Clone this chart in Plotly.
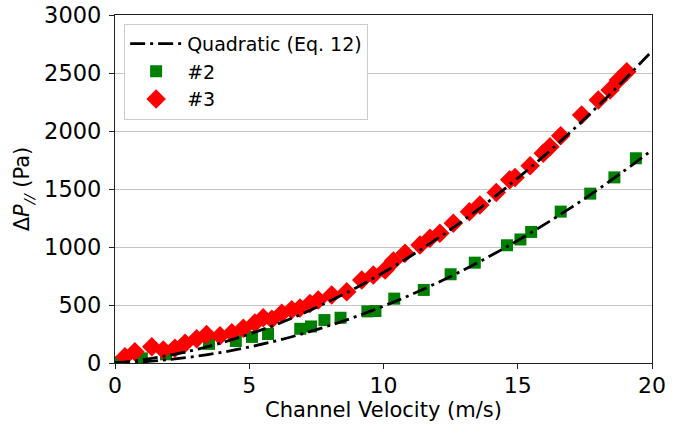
import plotly.graph_objects as go

# Quadratic fit curves (Eq. 12), read at integer velocities
fit_v = list(range(0, 21))
fit_p3 = [0, 27, 66, 115, 176, 249, 332, 427, 534, 651, 780, 920, 1072, 1234,
          1408, 1594, 1790, 1998, 2218, 2448, 2690]
fit_p2 = [0, 10, 30, 57, 93, 138, 191, 253, 324, 402, 490, 586, 691, 804,
          926, 1056, 1195, 1342, 1498, 1663, 1836]

# Measured data #2
v2 = [0.1, 1.0, 1.9, 2.4, 3.5, 4.5, 5.1, 5.7, 6.9, 7.3, 7.8, 8.4, 9.4, 9.7,
      10.4, 11.5, 12.5, 13.4, 14.6, 15.1, 15.5, 16.6, 17.7, 18.6, 19.4]
p2 = [5, 40, 75, 130, 165, 190, 225, 250, 295, 315, 370, 390, 445, 448,
      555, 630, 765, 865, 1015, 1065, 1130, 1305, 1460, 1600, 1765]

# Measured data #3
v3 = [0.37, 0.74, 1.37, 1.8, 2.23, 2.61, 3.04, 3.41, 3.91, 4.35, 4.78, 5.21,
      5.52, 5.84, 6.21, 6.58, 6.89, 7.26, 7.57, 8.07, 8.63, 9.19, 9.62, 10.06,
      10.37, 10.8, 11.36, 11.73, 12.1, 12.6, 13.2, 13.59, 14.2, 14.7, 14.9,
      15.46, 15.95, 16.2, 16.6, 17.38, 18.0, 18.44, 18.75, 19.06]
p3 = [54, 97, 141, 112, 127, 170, 210, 245, 235, 260, 300, 345,
      390, 377, 428, 460, 475, 514, 543, 586, 615, 716, 759, 802,
      880, 946, 1017, 1075, 1118, 1204, 1304, 1362, 1470, 1580, 1600,
      1700, 1808, 1865, 1960, 2138, 2267, 2353, 2440, 2511]

x_ticks = [0, 5, 10, 15, 20]
y_ticks = [0, 500, 1000, 1500, 2000, 2500, 3000]

FONT = "DejaVu Sans"
fig = go.Figure()

fig.add_trace(go.Scatter(
    x=v2, y=p2, mode="markers", name="#2", legendrank=2,
    marker=dict(symbol="square", size=12, color="#008000", line=dict(width=0)),
))
fig.add_trace(go.Scatter(
    x=v3, y=p3, mode="markers", name="#3", legendrank=3,
    marker=dict(symbol="diamond", size=15, color="#ff0000", line=dict(width=0)),
))
dash = "15px,5px,3px,5px"
fig.add_trace(go.Scatter(
    x=fit_v, y=fit_p3, mode="lines", name="Quadratic (Eq. 12)", legendrank=1,
    line=dict(color="black", width=2.8, dash=dash, shape="spline"),
))
fig.add_trace(go.Scatter(
    x=fit_v, y=fit_p2, mode="lines", name="Quadratic (Eq. 12)", showlegend=False,
    line=dict(color="black", width=2.8, dash=dash, shape="spline"),
))

fig.update_layout(
    width=690, height=428,
    margin=dict(l=115, r=38, t=15, b=65),
    paper_bgcolor="white", plot_bgcolor="white",
    font=dict(family=FONT, size=21, color="black"),
    legend=dict(
        x=0.017, y=0.975, xanchor="left", yanchor="top",
        bgcolor="white", bordercolor="#cccccc", borderwidth=1,
        font=dict(family=FONT, size=19, color="black"),
        tracegroupgap=0, itemwidth=52,
    ),
    xaxis=dict(
        range=[0, 20], tickvals=x_ticks, ticktext=[str(t) for t in x_ticks],
        showgrid=False, zeroline=False, automargin=False,
        showline=True, linecolor="#222222", linewidth=1.3, mirror=True,
        ticks="outside", ticklen=5, tickwidth=1.2, tickcolor="#222222",
        ticklabelstandoff=-3,
        tickfont=dict(family=FONT, size=22),
        title=dict(text="Channel Velocity (m/s)", font=dict(family=FONT, size=21), standoff=2),
    ),
    yaxis=dict(
        range=[0, 3000], tickvals=y_ticks, ticktext=[str(t) for t in y_ticks],
        showgrid=True, gridcolor="#c4c4c4", gridwidth=1.2, zeroline=False, automargin=False,
        showline=True, linecolor="#222222", linewidth=1.3, mirror=True,
        ticks="outside", ticklen=5, tickwidth=1.2, tickcolor="#222222",
        ticklabeloverflow="allow", ticklabelstandoff=3,
        tickfont=dict(family=FONT, size=22.5),
        title=dict(text="Δ<i>P</i><sub><i>//</i></sub> (Pa)", font=dict(family=FONT, size=21), standoff=8),
    ),
)

fig.write_html("out.html", config={"displayModeBar": False},
               post_script="document.body.style.margin='0px';")
